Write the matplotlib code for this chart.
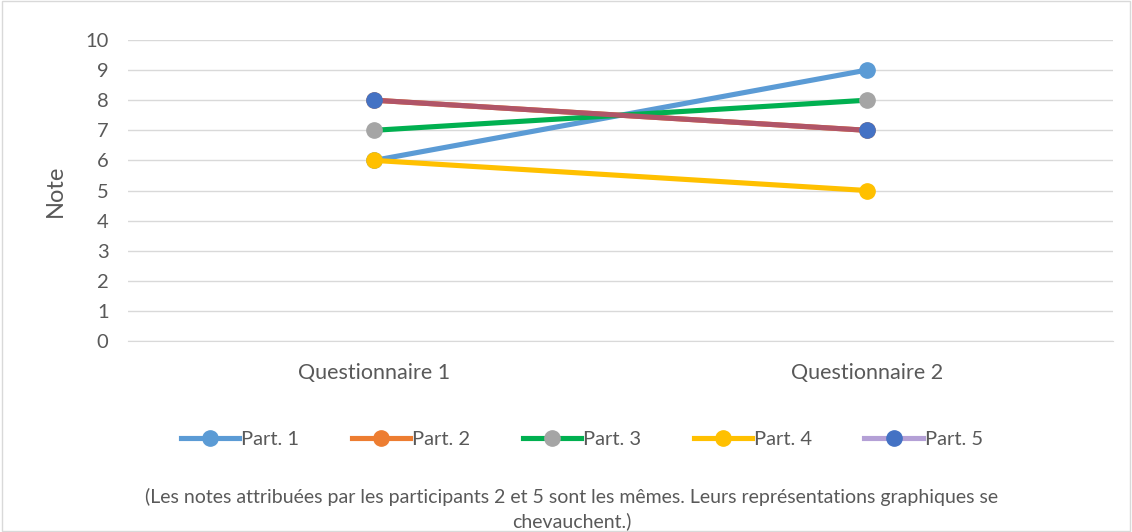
import matplotlib
matplotlib.use("Agg")
import matplotlib.pyplot as plt
from matplotlib.lines import Line2D
from matplotlib.patches import Rectangle

categories = ["Questionnaire 1", "Questionnaire 2"]
series_names = ["Part. 1", "Part. 2", "Part. 3", "Part. 4", "Part. 5"]
part1 = [6, 9]
part2 = [8, 7]
part3 = [7, 8]
part4 = [6, 5]
part5 = [8, 7]
values = [part1, part2, part3, part4, part5]
line_colors = ["#5B9BD5", "#ED7D31", "#00B050", "#FFC000", "#B4A0D6"]
marker_colors = ["#5B9BD5", "#ED7D31", "#A5A5A5", "#FFC000", "#4472C4"]
drawn_line_colors = ["#5B9BD5", "#ED7D31", "#00B050", "#FFC000", "#B05568"]
yticks = list(range(0, 11))
caption = ("(Les notes attribuées par les participants 2 et 5 sont les mêmes. "
           "Leurs représentations graphiques se\nchevauchent.)")

plt.rcParams['font.family'] = ['Lato', 'DejaVu Sans']
txt = "#595959"

fig = plt.figure(figsize=(11.32, 5.32), dpi=100)
fig.patches.append(Rectangle((0.0015, 0.002), 0.997, 0.996, transform=fig.transFigure,
                             fill=False, edgecolor="#D9D9D9", linewidth=1))
ax = fig.add_axes([128/1132, 1-341/532, (1113-128)/1132, (341-40)/532])

x = list(range(len(categories)))
for i, (name, vals) in enumerate(zip(series_names, values)):
    ax.plot(x, vals, color=drawn_line_colors[i], linewidth=3.7, solid_capstyle="round",
            marker="o", markersize=11, markerfacecolor=marker_colors[i],
            markeredgecolor=marker_colors[i], zorder=3 + i)

ax.set_xlim(-0.5, 1.5)
ax.set_ylim(0, 10)
ax.set_yticks(yticks)
ax.set_xticks(x)
ax.set_xticklabels(categories)
ax.grid(axis="y", color="#D9D9D9", linewidth=1)
ax.set_axisbelow(True)
for s in ["top", "right", "left"]:
    ax.spines[s].set_visible(False)
ax.spines["bottom"].set_color("#D9D9D9")
ax.tick_params(axis="y", length=0, labelsize=14.5, colors=txt, pad=14)
ax.tick_params(axis="x", length=0, labelsize=15.5, colors=txt, pad=16)
ax.set_ylabel("Note", fontsize=17, color=txt, labelpad=14)

handles = [Line2D([0], [0], color=line_colors[i], linewidth=3.7, marker="o", markersize=11,
                  markerfacecolor=marker_colors[i], markeredgecolor=marker_colors[i])
           for i in range(len(series_names))]
fig.legend(handles, series_names, loc="center", bbox_to_anchor=(582/1132, 1-439/532),
           ncol=5, frameon=False, fontsize=14.5, labelcolor=txt, handlelength=2.9,
           handletextpad=0.1, columnspacing=2.6)

fig.text(572/1132, 1-509/532, caption, ha="center", va="center", fontsize=14,
         color=txt, linespacing=1.4)

fig.savefig("out.png", dpi=100)
